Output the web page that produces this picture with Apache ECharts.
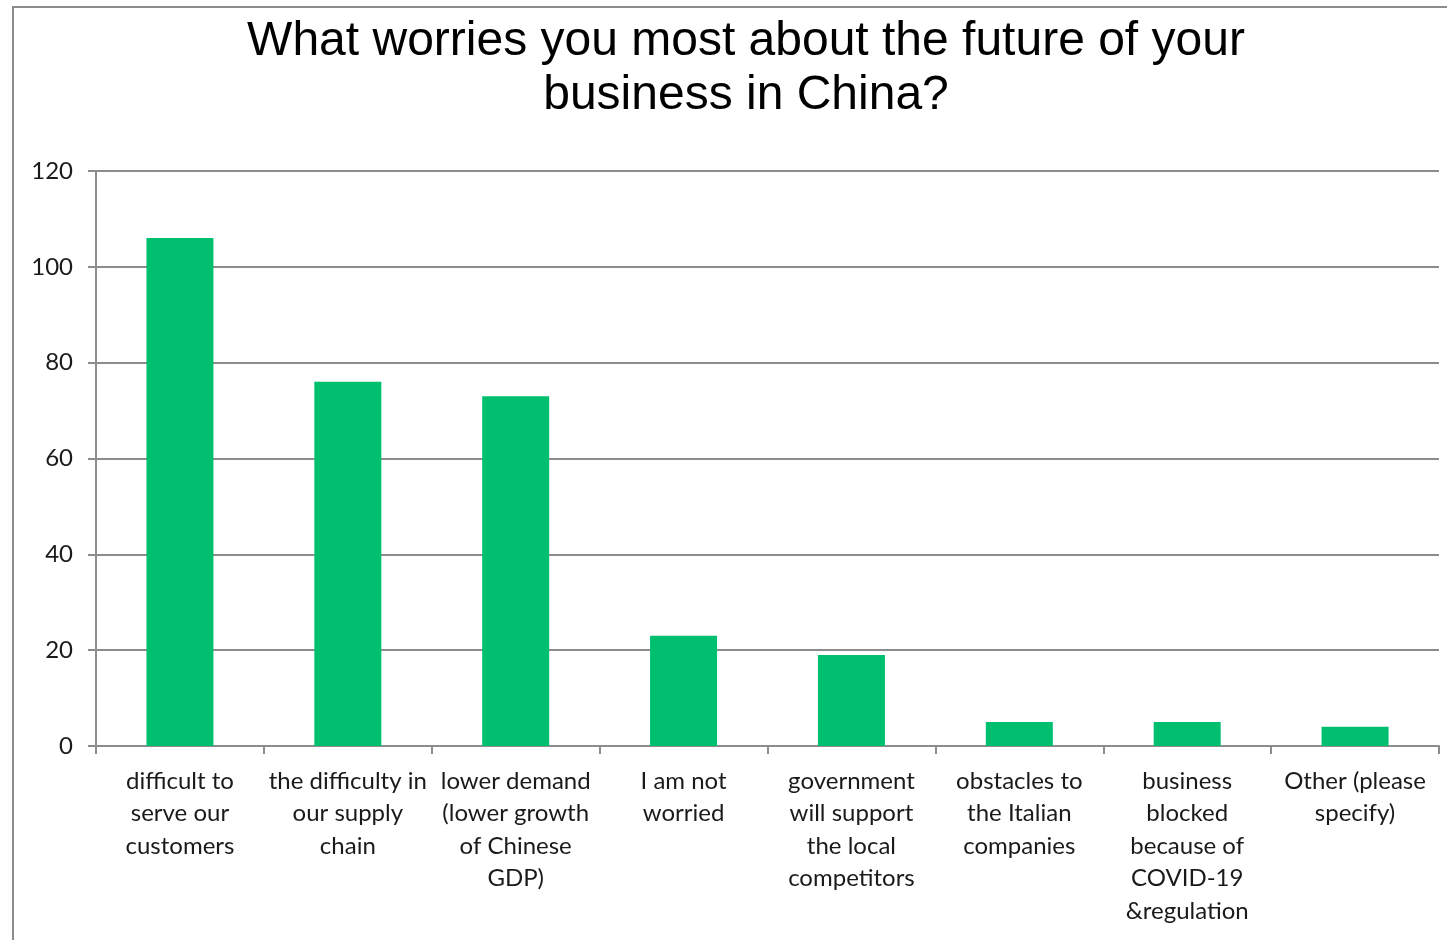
<!DOCTYPE html>
<html>
<head>
<meta charset="utf-8">
<script src="https://cdn.jsdelivr.net/npm/echarts@6/dist/echarts.min.js"></script>
<style>
  html, body { margin: 0; padding: 0; background: #fff; }
  #chart { width: 1447px; height: 940px; }
</style>
</head>
<body>
<div id="chart"></div>
<script>
const titleText = 'What worries you most about the future of your\nbusiness in China?';
const categories = [
  'difficult to\nserve our\ncustomers',
  'the difficulty in\nour supply\nchain',
  'lower demand\n(lower growth\nof Chinese\nGDP)',
  'I am not\nworried',
  'government\nwill support\nthe local\ncompetitors',
  'obstacles to\nthe Italian\ncompanies',
  'business\nblocked\nbecause of\nCOVID-19\n&regulation',
  'Other (please\nspecify)'
];
const responses = [106, 76, 73, 23, 19, 5, 5, 4];
const yTicks = { min: 0, max: 120, interval: 20 };

const chart = echarts.init(document.getElementById('chart'), null, { renderer: 'canvas' });
const gray = '#8c8c8c';
const labelFont = 'Lato, "Open Sans", sans-serif';

chart.setOption({
  animation: false,
  backgroundColor: '#ffffff',
  graphic: [{
    type: 'rect',
    shape: { x: 13, y: 7, width: 1460, height: 960 },
    style: { fill: 'none', stroke: gray, lineWidth: 2 },
    silent: true
  }],
  title: {
    text: titleText,
    left: 741,
    top: 10,
    textAlign: 'center',
    textStyle: {
      fontFamily: '"Liberation Sans", Arial, sans-serif',
      fontSize: 48,
      fontWeight: 'normal',
      color: '#000',
      lineHeight: 54
    }
  },
  grid: { left: 96, right: 8, top: 171, bottom: 194, containLabel: false },
  xAxis: {
    type: 'category',
    data: categories,
    axisLine: { lineStyle: { color: gray, width: 2 } },
    axisTick: { show: true, length: 8, alignWithLabel: false, lineStyle: { color: gray, width: 2 } },
    axisLabel: {
      interval: 0,
      margin: 19,
      color: '#1a1a1a',
      fontFamily: labelFont,
      fontSize: 24,
      lineHeight: 32.5,
      align: 'center',
      verticalAlign: 'top'
    }
  },
  yAxis: {
    type: 'value',
    min: yTicks.min,
    max: yTicks.max,
    interval: yTicks.interval,
    axisLine: { show: true, lineStyle: { color: gray, width: 2 } },
    axisTick: { show: true, length: 8, lineStyle: { color: gray, width: 2 } },
    splitLine: { show: true, lineStyle: { color: gray, width: 2 } },
    axisLabel: {
      margin: 23,
      color: '#1a1a1a',
      fontFamily: labelFont,
      fontSize: 24
    }
  },
  series: [{
    type: 'bar',
    data: responses,
    barWidth: 67,
    itemStyle: { color: '#00bf6f' }
  }]
});
</script>
</body>
</html>
